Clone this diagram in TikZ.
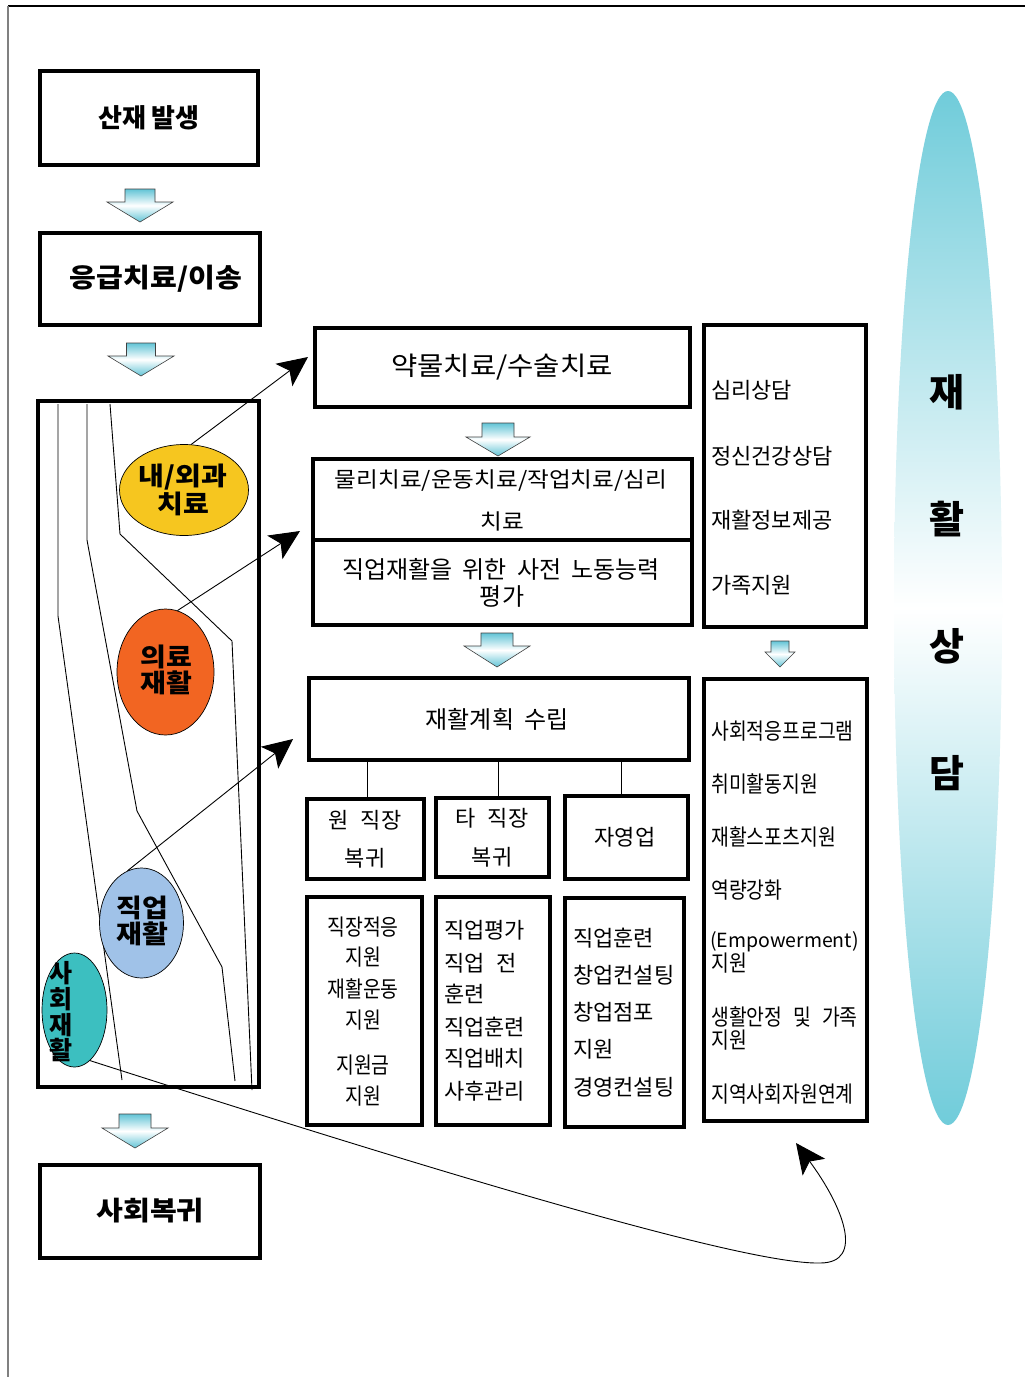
\documentclass[tikz,border=0pt]{standalone}
\usepackage{fontspec}
\setmainfont{Noto Sans CJK KR}
\newfontfamily\krc[FakeStretch=0.86]{Noto Sans CJK KR}
\newfontfamily\krw[FakeStretch=1.1]{Noto Sans CJK KR}
\usetikzlibrary{shapes.geometric,arrows.meta}
\definecolor{arrc}{HTML}{62C4D6}
\definecolor{bigc}{HTML}{70CCDA}
\definecolor{yelc}{HTML}{F6C61F}
\definecolor{orac}{HTML}{F26522}
\definecolor{bluc}{HTML}{A0C2E8}
\definecolor{teac}{HTML}{3CBFC0}
\newcommand{\wspa}{\spaceskip=12pt\relax}
\newcommand{\wspb}{\spaceskip=20pt\relax}
\newcommand{\dnarrow}[6]{%
 \draw[blk] ({#1-#5},#2) -- ({#1+#5},#2) -- ({#1+#5},#3) -- ({#1+#6},#3) -- (#1,#4) -- ({#1-#6},#3) -- ({#1-#5},#3) -- cycle;}
\begin{document}
\begin{tikzpicture}[x=1pt,y=-1pt,
  box/.style={draw, line width=3.5pt, inner sep=0pt},
  blk/.style={draw=black!75, line width=0.6pt, top color=arrc, bottom color=arrc, middle color=white},
  ell/.style={ellipse, draw, line width=0.7pt, inner sep=0pt},
  arr/.style={line width=0.9pt, -{Stealth[length=30pt,width=28pt,inset=7pt]}},
  thin/.style={line width=0.9pt},
  tb/.style={inner sep=0pt, font={\bfseries\fontsize{26}{28}\selectfont}},
  tbw/.style={inner sep=0pt, font={\krw\bfseries\fontsize{26.5}{28}\selectfont}},
  te/.style={inner sep=0pt, align=center, font={\krw\bfseries\fontsize{25.5}{26}\selectfont}},
  t20/.style={inner sep=0pt, font={\fontsize{22}{24}\selectfont\wspa}},
  t22/.style={inner sep=0pt, font={\fontsize{24}{26}\selectfont\spaceskip=10pt\relax}},
  tc/.style={inner sep=0pt, font={\krc\fontsize{22.5}{24}\selectfont\wspb}},
]
\useasboundingbox (0,0) rectangle (1025,1377);
\fill[white] (0,0) rectangle (1025,1377);
% frame
\draw[line width=1.5pt] (8,6) -- (1025,6);
\draw[gray, line width=1.5pt] (8,6) -- (8,1377);

% left column boxes
\node[box, minimum width=218pt, minimum height=94pt] (n1) at (149,118) {};
\node[tb] (n1t) at (149,118) {산재 발생};
\node[box, minimum width=220pt, minimum height=92pt] (n2) at (150,279) {};
\node[tbw] (n2t) at (156,279) {응급치료/이송};
\node[box, minimum width=221pt, minimum height=686pt] (bigbox) at (148.5,744) {};
\node[box, minimum width=220pt, minimum height=93pt] (n3) at (150,1211.5) {};
\node[tbw] (n3t) at (150,1211) {사회복귀};

% block arrows
\dnarrow{140}{189}{202}{222}{15}{33}
\dnarrow{141}{343}{356}{376}{14.5}{33}
\dnarrow{498}{423}{437}{456}{16}{32}
\dnarrow{497}{633}{646}{667}{16}{33}
\dnarrow{780}{641}{652}{667}{9}{15}
\dnarrow{135}{1114}{1128}{1148}{16}{33}

% lines inside the big box
\draw[thin] (58,404) -- (58,616) -- (122,1080);
\draw[thin] (87,404) -- (87,540) -- (137,811) -- (222,967) -- (235,1081);
\draw[thin] (110,404) -- (120,534) -- (232,641) -- (252,1090);

% ellipses
\node[ell, fill=yelc, minimum width=129pt, minimum height=91pt] (yel) at (184,490) {};
\node[ell, fill=orac, minimum width=97pt, minimum height=126pt] (ora) at (165.5,672) {};
\node[ell, fill=bluc, minimum width=84pt, minimum height=110pt] (blu) at (141.5,923) {};
\node[ell, fill=teac, minimum width=65pt, minimum height=114pt] (tea) at (74.5,1010) {};
\node[te] (yelt) at (183,490) {내/외과\\치료};
\node[te] (orat) at (166,670) {의료\\재활};
\node[te] (blut) at (142,921) {직업\\재활};
\node[inner sep=0pt, align=center, font={\bfseries\fontsize{25}{25.7}\selectfont}] (teat) at (61,1012) {사\\회\\재\\활};

% middle column
\node[box, minimum width=375pt, minimum height=79pt] (m1) at (502.5,367.5) {};
\node[inner sep=0pt, font={\krw\fontsize{26}{28}\selectfont}] (m1t) at (502,367) {약물치료/수술치료};
\node[box, minimum width=379pt, minimum height=81pt] (m2) at (502.5,499.5) {};
\node[inner sep=0pt, font={\krw\fontsize{21.5}{24}\selectfont}] (m2a) at (501,481) {물리치료/운동치료/작업치료/심리};
\node[inner sep=0pt, font={\krw\fontsize{21.5}{24}\selectfont}] (m2b) at (502,521) {치료};
\node[box, minimum width=379pt, minimum height=85pt] (m3) at (502.5,582.5) {};
\node[t22] (m3a) at (501,569) {직업재활을 위한 사전 노동능력};
\node[t22] (m3b) at (502,596) {평가};
\node[box, minimum width=380pt, minimum height=82pt] (m4) at (499,719) {};
\node[t22] (m4t) at (497,719) {재활계획 수립};

\node[box, minimum width=117pt, minimum height=80pt] (s1) at (365.5,839) {};
\node[box, minimum width=113pt, minimum height=79pt] (s2) at (492.5,837.5) {};
\node[box, minimum width=123pt, minimum height=83pt] (s3) at (626.5,837.5) {};
\draw[thin] ([xshift=2pt]s1.north) -- ([xshift=2pt]s1.north |- m4.south);
\draw[thin] ([xshift=5.5pt]s2.north) -- ([xshift=5.5pt]s2.north |- m4.south);
\draw[thin] ([xshift=-5pt]s3.north) -- ++(0,-33);
\node[t20] (s1a) at (365,820) {원 직장};
\node[t20] (s1b) at (365,858) {복귀};
\node[t20] (s2a) at (492,818) {타 직장};
\node[t20] (s2b) at (492,857) {복귀};
\node[t20] (s3a) at (625,837) {자영업};

\node[box, minimum width=115pt, minimum height=228pt] (l1) at (364.5,1011) {};
\node[box, minimum width=114pt, minimum height=228pt] (l2) at (493,1011) {};
\node[box, minimum width=119pt, minimum height=229pt] (l3) at (624.5,1012.5) {};
\node[tc] (l1a) at (363,927) {직장적응};
\node[tc] (l1b) at (363,957) {지원};
\node[tc] (l1c) at (363,989) {재활운동};
\node[tc] (l1d) at (363,1020) {지원};
\node[tc] (l1e) at (363,1065) {지원금};
\node[tc] (l1f) at (363,1096) {지원};
\node[t20, anchor=west] (l2a) at (444,930) {직업평가};
\node[t20, anchor=west] (l2b) at (444,963) {직업 전};
\node[t20, anchor=west] (l2c) at (444,994) {훈련};
\node[t20, anchor=west] (l2d) at (444,1027) {직업훈련};
\node[t20, anchor=west] (l2e) at (444,1058) {직업배치};
\node[t20, anchor=west] (l2f) at (444,1091) {사후관리};
\node[t20, anchor=west] (l3a) at (573,938) {직업훈련};
\node[t20, anchor=west] (l3b) at (573,975) {창업컨설팅};
\node[t20, anchor=west] (l3c) at (573,1012) {창업점포};
\node[t20, anchor=west] (l3d) at (573,1049) {지원};
\node[t20, anchor=west] (l3e) at (573,1087) {경영컨설팅};

% right column
\node[box, minimum width=162pt, minimum height=302pt] (r1) at (785,476) {};
\node[t20, anchor=west] (r1a) at (711,390) {심리상담};
\node[t20, anchor=west] (r1b) at (711,456) {정신건강상담};
\node[t20, anchor=west] (r1c) at (711,520) {재활정보제공};
\node[t20, anchor=west] (r1d) at (711,585) {가족지원};
\node[box, minimum width=163pt, minimum height=442pt] (r2) at (785.5,900) {};
\node[tc, anchor=west] (r2a) at (711,731) {사회적응프로그램};
\node[tc, anchor=west] (r2b) at (711,784) {취미활동지원};
\node[tc, anchor=west] (r2c) at (711,837) {재활스포츠지원};
\node[tc, anchor=west] (r2d) at (711,890) {역량강화};
\node[inner sep=0pt, anchor=west, font={\fontsize{19.5}{22}\selectfont}] (r2e) at (710,942) {(Empowerment)};
\node[tc, anchor=west] (r2f) at (711,963) {지원};
\node[inner sep=0pt, anchor=west, font={\krc\fontsize{22.5}{24}\selectfont\spaceskip=11pt\relax}] (r2g) at (711,1017) {생활안정 및 가족};
\node[tc, anchor=west] (r2h) at (711,1040) {지원};
\node[tc, anchor=west] (r2i) at (711,1094) {지역사회자원연계};

% big ellipse
\node[ellipse, inner sep=0pt, minimum width=108pt, minimum height=1034pt, top color=bigc, bottom color=bigc, middle color=white] (bigell) at (948,608) {};
\node[inner sep=0pt, align=center, font={\bfseries\fontsize{38}{127}\selectfont}] (bigt) at (947,582.5) {재\\활\\상\\담};

% arrows
\coordinate (tp1) at (308,357);
\coordinate (tp2) at (300,531);
\coordinate (tp3) at (293,739);
\coordinate (tp4) at (796,1143);
\draw[arr] (yel.81) -- (tp1);
\draw[arr] (ora.79) -- (tp2);
\draw[arr] (blu.105) -- (tp3);
\draw[arr] (tea.-73) .. controls (400,1160) and (740,1265) .. (820,1263) .. controls (866,1263) and (842,1205) .. (tp4);
\end{tikzpicture}
\end{document}
